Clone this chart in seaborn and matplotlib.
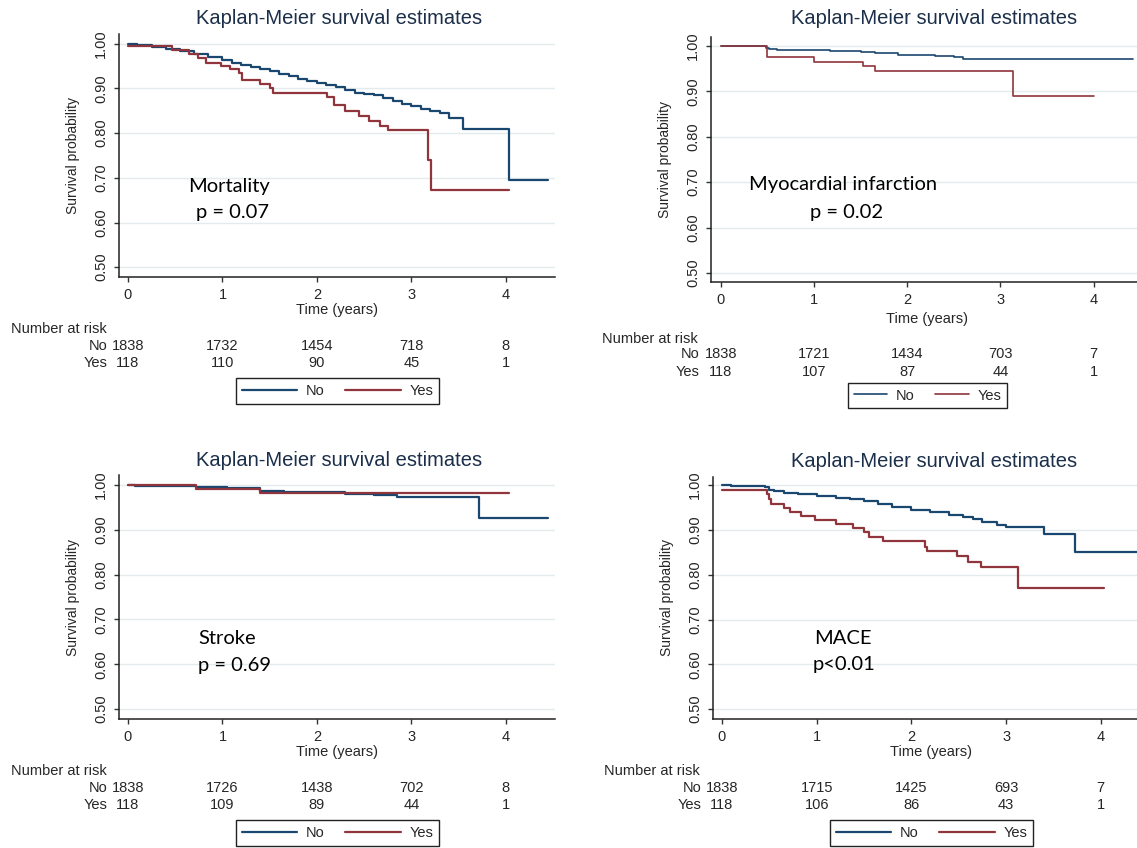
import pandas as pd
import matplotlib
matplotlib.use("Agg")
import matplotlib.pyplot as plt
import matplotlib.transforms as mtransforms
from matplotlib.lines import Line2D
import seaborn as sns

# Kaplan-Meier krivulje (vrijednosti ocitane sa slike)
# Mortality
mort_no_t = [0, 0.1, 0.25, 0.4, 0.55, 0.7, 0.85, 1.0, 1.1, 1.2, 1.3, 1.4, 1.5, 1.6, 1.7, 1.8, 1.9,
             2.0, 2.1, 2.2, 2.3, 2.4, 2.5, 2.6, 2.7, 2.8, 2.9, 3.0, 3.1, 3.2, 3.3, 3.4, 3.55, 4.03, 4.45]
mort_no_s = [1.0, 0.997, 0.993, 0.988, 0.984, 0.978, 0.971, 0.964, 0.958, 0.953, 0.949, 0.944, 0.939,
             0.933, 0.927, 0.921, 0.916, 0.912, 0.908, 0.903, 0.897, 0.891, 0.888, 0.885, 0.879, 0.872,
             0.866, 0.860, 0.855, 0.850, 0.845, 0.833, 0.810, 0.695, 0.695]
mort_yes_t = [0, 0.47, 0.65, 0.74, 0.83, 0.98, 1.08, 1.17, 1.21, 1.4, 1.5, 1.53, 2.11, 2.18, 2.3,
              2.45, 2.55, 2.67, 2.75, 3.18, 3.21, 4.03]
mort_yes_s = [0.995, 0.987, 0.978, 0.968, 0.958, 0.951, 0.944, 0.934, 0.919, 0.909, 0.9, 0.89, 0.88,
              0.862, 0.849, 0.839, 0.828, 0.817, 0.806, 0.74, 0.672, 0.672]

# Myocardial infarction
mi_no_t = [0, 0.48, 0.52, 0.6, 1.17, 1.5, 1.65, 1.9, 2.3, 2.5, 2.6, 4.42]
mi_no_s = [1.0, 0.996, 0.993, 0.991, 0.989, 0.986, 0.984, 0.981, 0.979, 0.977, 0.972, 0.972]
mi_yes_t = [0, 0.49, 1.0, 1.53, 1.65, 3.13, 4.0]
mi_yes_s = [1.0, 0.975, 0.966, 0.956, 0.946, 0.891, 0.891]

# Stroke
stroke_no_t = [0, 0.07, 0.72, 1.05, 1.4, 1.65, 2.0, 2.3, 2.6, 2.85, 3.72, 4.45]
stroke_no_s = [1.0, 0.998, 0.995, 0.992, 0.987, 0.985, 0.983, 0.980, 0.977, 0.972, 0.927, 0.927]
stroke_yes_t = [0, 0.72, 1.4, 4.03]
stroke_yes_s = [1.0, 0.99, 0.982, 0.982]

# MACE
mace_no_t = [0, 0.1, 0.45, 0.5, 0.55, 0.65, 0.8, 1.0, 1.2, 1.35, 1.5, 1.65, 1.8, 2.0, 2.2, 2.4,
             2.55, 2.65, 2.75, 2.9, 3.0, 3.4, 3.73, 4.45]
mace_no_s = [1.0, 0.998, 0.995, 0.99, 0.986, 0.983, 0.979, 0.976, 0.972, 0.969, 0.965, 0.957, 0.951,
             0.944, 0.939, 0.934, 0.929, 0.924, 0.918, 0.912, 0.906, 0.890, 0.851, 0.851]
mace_yes_t = [0, 0.47, 0.5, 0.52, 0.66, 0.72, 0.83, 0.98, 1.2, 1.38, 1.5, 1.55, 1.7, 2.14, 2.17,
              2.48, 2.6, 2.73, 3.13, 4.03]
mace_yes_s = [0.99, 0.98, 0.968, 0.957, 0.948, 0.94, 0.932, 0.923, 0.913, 0.905, 0.895, 0.884, 0.876,
              0.862, 0.853, 0.842, 0.829, 0.818, 0.77, 0.77]

# Broj pacijenata pod rizikom
risk_times = [0, 1, 2, 3, 4]
mort_risk_no = [1838, 1732, 1454, 718, 8]
mort_risk_yes = [118, 110, 90, 45, 1]
mi_risk_no = [1838, 1721, 1434, 703, 7]
mi_risk_yes = [118, 107, 87, 44, 1]
stroke_risk_no = [1838, 1726, 1438, 702, 8]
stroke_risk_yes = [118, 109, 89, 44, 1]
mace_risk_no = [1838, 1715, 1425, 693, 7]
mace_risk_yes = [118, 106, 86, 43, 1]

outcomes = ["Mortality", "Myocardial infarction", "Stroke", "MACE"]
p_values = ["p = 0.07", "p = 0.02", "p = 0.69", "p<0.01"]
groups = ["No", "Yes"]
y_ticks = [0.5, 0.6, 0.7, 0.8, 0.9, 1.0]
x_ticks = [0, 1, 2, 3, 4]

curves = [
    (mort_no_t, mort_no_s, mort_yes_t, mort_yes_s, mort_risk_no, mort_risk_yes),
    (mi_no_t, mi_no_s, mi_yes_t, mi_yes_s, mi_risk_no, mi_risk_yes),
    (stroke_no_t, stroke_no_s, stroke_yes_t, stroke_yes_s, stroke_risk_no, stroke_risk_yes),
    (mace_no_t, mace_no_s, mace_yes_t, mace_yes_s, mace_risk_no, mace_risk_yes),
]

# raspored (u pikselima slike 1137x848)
W, H = 1137, 848
layout = [
    dict(box=(119, 34, 555, 277), xlim=(-0.095, 4.52), ylim=(0.478, 1.022), title=(339, 19),
         head=(11, 329), lab_x=108, rows=(346, 363), time_y=310, leg=(337.5, 391), hl=3.8, lw=1.6,
         ann=((1.066, 0.681, "center"), (1.104, 0.623, "center"))),
    dict(box=(711, 37, 1142, 282), xlim=(-0.107, 4.52), ylim=(0.48, 1.02), title=(934, 18),
         head=(602, 339), lab_x=699, rows=(354, 372), time_y=319, leg=(927.5, 395.5), hl=2.3, lw=1.2,
         ann=((1.306, 0.694, "center"), (1.351, 0.634, "center"))),
    dict(box=(119, 475, 555, 719), xlim=(-0.095, 4.52), ylim=(0.478, 1.022), title=(339, 461),
         head=(11, 771), lab_x=108, rows=(788, 805), time_y=752, leg=(337.5, 833), hl=3.8, lw=1.6,
         ann=((0.75, 0.657, "left"), (0.745, 0.597, "left"))),
    dict(box=(713, 477, 1150, 719), xlim=(-0.095, 4.52), ylim=(0.478, 1.018), title=(934, 462),
         head=(604, 771), lab_x=701, rows=(788, 805), time_y=752, leg=(931.5, 833), hl=3.8, lw=1.6,
         ann=((1.279, 0.658, "center"), (1.287, 0.599, "center"))),
]

colors = {"No": "#1a476f", "Yes": "#90353b"}
title_color = "#1c2f4a"
text_color = "#262626"

sns.set_style("white")
plt.rcParams['font.family'] = ['Liberation Sans', 'DejaVu Sans']

fig = plt.figure(figsize=(W / 100, H / 100), dpi=100)

for (no_t, no_s, yes_t, yes_s, r_no, r_yes), lay, outcome, pval in zip(curves, layout, outcomes, p_values):
    left, top, right, bottom = lay["box"]
    ax = fig.add_axes([left / W, 1 - bottom / H, (right - left) / W, (bottom - top) / H])

    df = pd.DataFrame({
        "time": no_t + yes_t,
        "surv": no_s + yes_s,
        "group": ["No"] * len(no_t) + ["Yes"] * len(yes_t),
    })
    sns.lineplot(data=df, x="time", y="surv", hue="group", hue_order=groups, palette=colors,
                 estimator=None, sort=False, drawstyle="steps-post", linewidth=lay["lw"],
                 legend=False, ax=ax)

    ax.set_xlim(*lay["xlim"])
    ax.set_ylim(*lay["ylim"])
    ax.set_xticks(x_ticks)
    ax.set_xticklabels([str(t) for t in x_ticks], fontsize=10.5, color=text_color)
    ax.set_yticks(y_ticks)
    ax.set_yticklabels([f"{v:.2f}" for v in y_ticks], fontsize=10.5, color=text_color,
                       rotation=90, va="center")
    ax.tick_params(bottom=True, left=True, direction="out", length=3.8, width=1,
                   color="#333333", pad=4)
    ax.yaxis.grid(True, color="#e4ebee", linewidth=1)
    ax.xaxis.grid(False)
    for side in ["top", "right"]:
        ax.spines[side].set_visible(False)
    for side in ["left", "bottom"]:
        ax.spines[side].set_color("#222222")
        ax.spines[side].set_linewidth(1.1)

    h_px = bottom - top
    w_px = right - left
    ax.set_xlabel("Time (years)", fontsize=10.5, color=text_color)
    ax.xaxis.set_label_coords(0.5, (bottom - lay["time_y"]) / h_px)
    ax.xaxis.label.set_va("center")
    ax.set_ylabel("Survival probability", fontsize=10, color=text_color)
    ax.yaxis.set_label_coords(-46 / w_px, 0.5)
    ax.yaxis.label.set_va("center")

    fig.text(lay["title"][0] / W, 1 - lay["title"][1] / H, "Kaplan-Meier survival estimates",
             fontsize=14.5, color=title_color, ha="center", va="center")

    # oznaka ishoda i p-vrijednost
    (x1, y1, ha1), (x2, y2, ha2) = lay["ann"]
    ax.text(x1, y1, outcome, fontsize=14.5, family=["Lato", "DejaVu Sans"], ha=ha1, va="center",
            color="black")
    ax.text(x2, y2, pval, fontsize=14.5, family=["Lato", "DejaVu Sans"], ha=ha2, va="center",
            color="black")

    # tablica broja pod rizikom
    trans = mtransforms.blended_transform_factory(ax.transData, fig.transFigure)
    fig.text(lay["head"][0] / W, 1 - lay["head"][1] / H, "Number at risk", fontsize=10.5,
             color=text_color, ha="left", va="center")
    for name, counts, row_y in zip(groups, [r_no, r_yes], lay["rows"]):
        fig.text(lay["lab_x"] / W, 1 - row_y / H, name, fontsize=10.5, color=text_color,
                 ha="right", va="center")
        for t, n in zip(risk_times, counts):
            ax.text(t, 1 - row_y / H, str(n), transform=trans, fontsize=10.5, color=text_color,
                    ha="center", va="center", clip_on=False)

    handles = [Line2D([0], [0], color=colors[g], lw=lay["lw"]) for g in groups]
    leg = fig.legend(handles, groups, loc="center",
                     bbox_to_anchor=(lay["leg"][0] / W, 1 - lay["leg"][1] / H),
                     ncol=2, frameon=True, fancybox=False, edgecolor="#222222", framealpha=1,
                     fontsize=10.5, handlelength=lay["hl"], handletextpad=0.6,
                     columnspacing=1.4, borderpad=0.4)
    leg.get_frame().set_linewidth(1.0)
    for txt in leg.get_texts():
        txt.set_color(text_color)

fig.savefig("out.png", dpi=100)
